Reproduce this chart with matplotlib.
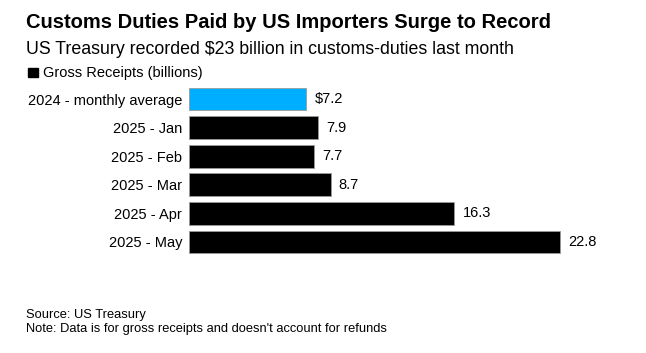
import matplotlib.pyplot as plt

# Data
categories = ["2024 - monthly average", "2025 - Jan", "2025 - Feb",
              "2025 - Mar", "2025 - Apr", "2025 - May"]
values = [7.2, 7.9, 7.7, 8.7, 16.3, 22.8]
value_labels = ["$7.2", "7.9", "7.7", "8.7", "16.3", "22.8"]
bar_colors = ["#00AEFF", "black", "black", "black", "black", "black"]

plt.rcParams['font.family'] = ['Liberation Sans', 'DejaVu Sans']

fig = plt.figure(figsize=(6.46, 3.53), dpi=100)
ax = fig.add_axes([189/646, 0.274, 456/646, 0.486])

ypos = list(range(len(categories)))
ax.barh(ypos, values, height=0.8, color=bar_colors,
        edgecolor="#9a9a9a", linewidth=0.6)
for y, v, lab in zip(ypos, values, value_labels):
    ax.text(v + 0.5, y, lab, va="center", ha="left", fontsize=10.5)

ax.set_xlim(0, 28)
ax.set_ylim(5.5, -0.5)
ax.set_yticks(ypos)
ax.set_yticklabels(categories, fontsize=10.5)
ax.tick_params(axis="y", length=0, pad=5)
ax.set_xticks([])
for s in ax.spines.values():
    s.set_visible(False)

# Title, subtitle, legend
fig.text(26/646, 1 - 22.5/353, "Customs Duties Paid by US Importers Surge to Record",
         fontsize=14.5, fontweight="bold", va="center", ha="left")
fig.text(26/646, 1 - 49.5/353, "US Treasury recorded $23 billion in customs-duties last month",
         fontsize=12.8, va="center", ha="left")
fig.patches.append(plt.Rectangle((28/646, 1 - 77/353), 10/646, 9/353,
                                 transform=fig.transFigure, color="black"))
fig.text(43/646, 1 - 73/353, "Gross Receipts (billions)",
         fontsize=10.5, va="center", ha="left")

# Footer
fig.text(26/646, 1 - 315/353, "Source: US Treasury", fontsize=9.3, va="center", ha="left")
fig.text(26/646, 1 - 329/353, "Note: Data is for gross receipts and doesn't account for refunds",
         fontsize=9.3, va="center", ha="left")

fig.savefig("out.png", dpi=100)
